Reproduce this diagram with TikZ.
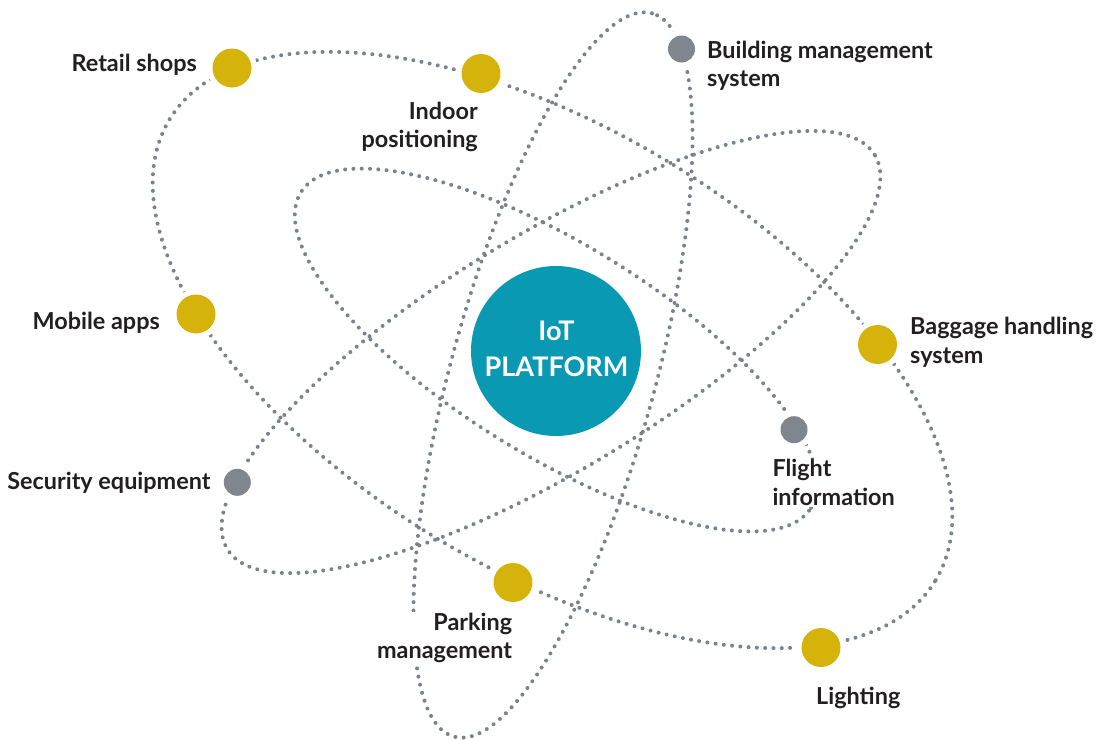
\documentclass[tikz,border=0pt]{standalone}
\usepackage{fontspec}
\setmainfont{Lato}
\definecolor{orbitgray}{HTML}{7A828A}
\definecolor{gold}{HTML}{D5B30B}
\definecolor{dotgray}{HTML}{7F868D}
\definecolor{iotteal}{HTML}{0A99B3}
\definecolor{ink}{HTML}{231F20}
\tikzset{
  orbit/.style={draw=orbitgray, line width=4pt, line cap=round, dash pattern=on 0pt off 8.3pt},
  golddot/.style={circle, fill=gold, minimum size=39pt, inner sep=0pt, preaction={draw=white, line width=11pt}},
  graydot/.style={circle, fill=dotgray, minimum size=27pt, inner sep=0pt, preaction={draw=white, line width=12pt}},
  lbl/.style={font=\bfseries\fontsize{23.4}{28.5}\selectfont, text=ink, fill=white, inner sep=1pt},
}
\begin{document}
\begin{tikzpicture}[x=1pt, y=-1pt]
\useasboundingbox (0,0) rectangle (1099,739);
% orbits
\draw[orbit, rotate around={-31:(552.5,350)}] (552.5,350) ellipse [x radius=447pt, y radius=221pt];
\draw[orbit, rotate around={74.7:(553,375)}] (553,375) ellipse [x radius=375pt, y radius=102pt];
\draw[orbit, rotate around={-31.7:(556,350)}] (556,350) ellipse [x radius=300pt, y radius=105.5pt];
\draw[orbit, rotate around={31.35:(551,352)}] (551,352) ellipse [x radius=379pt, y radius=117pt];
% centre
\node[circle, fill=iotteal, minimum size=170pt, inner sep=0pt] (iot) at (556,351) {};
\node[font=\bfseries\fontsize{27}{36}\selectfont, text=white, align=center] (iottext) at (556.5,349) {IoT\\PLATFORM};
% dots
\node[golddot] (retail) at (232,68) {};
\node[golddot] (indoor) at (481,73.5) {};
\node[graydot] (building) at (681.5,49) {};
\node[golddot] (baggage) at (877.5,344.5) {};
\node[golddot] (mobile) at (196,314) {};
\node[graydot] (security) at (237.3,482.3) {};
\node[graydot] (flight) at (794,429.7) {};
\node[golddot] (parking) at (513,582.5) {};
\node[golddot] (lighting) at (821,647.5) {};
% labels
\node[lbl, anchor=north east] (retailL) at (198,53) {Retail shops};
\node[lbl, anchor=north east, align=right] (indoorL) at (479,100.7) {Indoor\\positioning};
\node[lbl, anchor=north west, align=left] (buildingL) at (706,39.7) {Building management\\system};
\node[lbl, anchor=north west, align=left] (baggageL) at (909,316.3) {Baggage handling\\system};
\node[lbl, anchor=north east] (mobileL) at (161,310.7) {Mobile apps};
\node[lbl, anchor=north east] (securityL) at (211.7,470.7) {Security equipment};
\node[lbl, anchor=north west, align=left] (flightL) at (771.3,458.3) {Flight\\information};
\node[lbl, anchor=north east, align=right] (parkingL) at (513.3,611.7) {Parking\\management};
\node[lbl, anchor=north west] (lightingL) at (815,685.7) {Lighting};
\end{tikzpicture}
\end{document}
